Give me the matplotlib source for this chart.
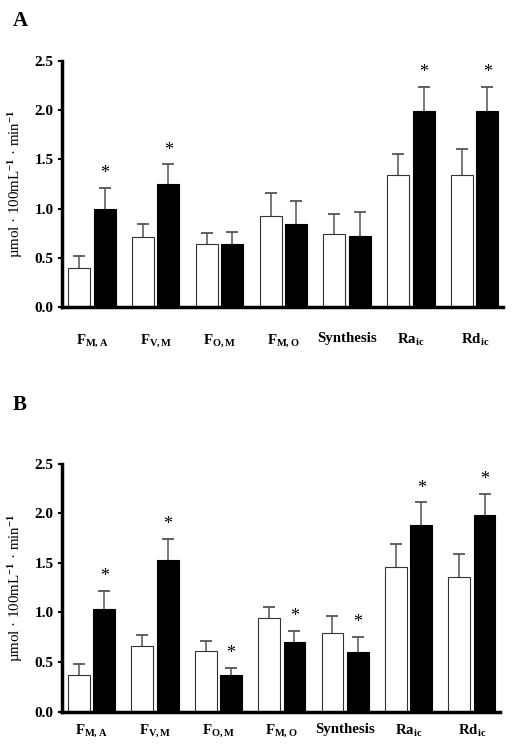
import numpy as np
import matplotlib
matplotlib.use('Agg')
import matplotlib.pyplot as plt

plt.rcParams['font.family'] = ['Liberation Serif', 'DejaVu Serif']
plt.rcParams['font.weight'] = 'bold'
plt.rcParams['mathtext.fontset'] = 'custom'
plt.rcParams['mathtext.rm'] = 'Liberation Serif:bold'
plt.rcParams['mathtext.it'] = 'Liberation Serif:bold'
plt.rcParams['mathtext.bf'] = 'Liberation Serif:bold'

labels = [r'$F_{M,A}$', r'$F_{V,M}$', r'$F_{O,M}$', r'$F_{M,O}$', 'Synthesis',
          r'Ra$_{ic}$', r'Rd$_{ic}$']

# panel A
a_white = [0.40, 0.71, 0.64, 0.93, 0.74, 1.34, 1.34]
a_white_err = [0.12, 0.13, 0.11, 0.23, 0.21, 0.22, 0.27]
a_black = [1.00, 1.25, 0.64, 0.85, 0.72, 1.99, 1.99]
a_black_err = [0.21, 0.20, 0.12, 0.23, 0.25, 0.25, 0.25]
a_star = [True, True, False, False, False, True, True]

# panel B
b_white = [0.37, 0.66, 0.61, 0.94, 0.79, 1.46, 1.36]
b_white_err = [0.11, 0.11, 0.10, 0.12, 0.17, 0.23, 0.23]
b_black = [1.04, 1.53, 0.37, 0.70, 0.60, 1.88, 1.98]
b_black_err = [0.18, 0.21, 0.07, 0.11, 0.15, 0.23, 0.22]
b_star = [True, True, True, True, True, True, True]


def upbars(ax, xs, tops, errs):
    # error bar drawn upward only, cap at the top
    tops = np.array(tops)
    errs = np.array(errs)
    ax.vlines(xs, tops, tops + errs, color='#555555', linewidth=1.1, zorder=1)
    ax.plot(xs, tops + errs, linestyle='none', marker='_', markersize=9,
            markeredgewidth=1.3, color='#555555', zorder=1)


def panel(ax, white, werr, black, berr, star, xpad):
    x = np.arange(len(labels))
    w = 0.345
    off = 0.2
    ax.bar(x - off, white, w, color='white', edgecolor='#333333', linewidth=0.8, zorder=2)
    ax.bar(x + off, black, w, color='black', edgecolor='black', linewidth=0.8, zorder=2)
    upbars(ax, x - off, white, werr)
    upbars(ax, x + off, black, berr)
    for i in range(len(x)):
        if star[i]:
            ax.text(x[i] + off, black[i] + berr[i] + 0.06, '*', ha='center',
                    va='bottom', fontsize=13, fontweight='normal')
    ax.set_xlim(-0.47, 6.44)
    ax.set_ylim(0, 2.5)
    ax.set_yticks([0, 0.5, 1.0, 1.5, 2.0, 2.5])
    ax.set_yticklabels(['0.0', '0.5', '1.0', '1.5', '2.0', '2.5'])
    ax.set_xticks(x)
    ax.set_xticklabels(labels)
    ax.tick_params(axis='x', length=0, pad=xpad, labelsize=10.7)
    ax.tick_params(axis='y', length=3, width=1.5, pad=3, labelsize=11)
    for s in ['top', 'right']:
        ax.spines[s].set_visible(False)
    ax.spines['left'].set_linewidth(2.5)
    ax.spines['bottom'].set_linewidth(2.5)
    ax.set_ylabel('µmol · 100mL$^{-1}$ · min$^{-1}$', fontsize=10.8, labelpad=7)


fig = plt.figure(figsize=(5.12, 7.53), dpi=100)
axA = fig.add_axes([0.121, 0.592, 0.861, 0.327])
axB = fig.add_axes([0.121, 0.055, 0.855, 0.329])

panel(axA, a_white, a_white_err, a_black, a_black_err, a_star, 18)
panel(axB, b_white, b_white_err, b_black, b_black_err, b_star, 8)

fig.text(0.025, 0.972, 'A', fontsize=15, fontweight='bold', va='center')
fig.text(0.025, 0.462, 'B', fontsize=15, fontweight='bold', va='center')

fig.savefig('out.png', dpi=100)
